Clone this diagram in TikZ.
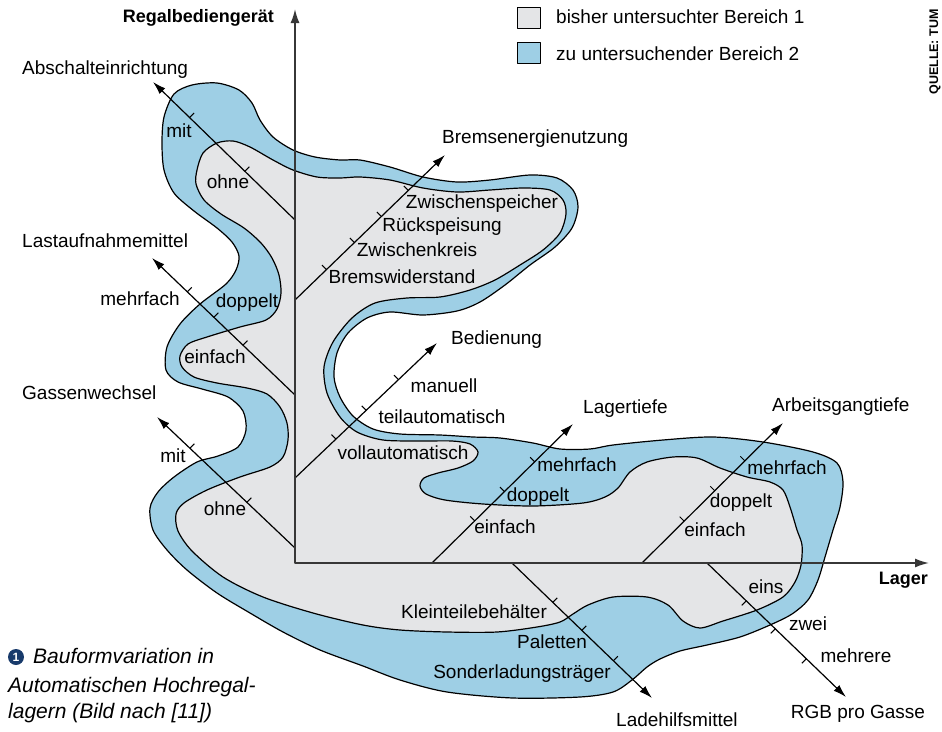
\documentclass[tikz,border=0pt]{standalone}
\usepackage{fontspec}
\setmainfont{Liberation Sans}
\usetikzlibrary{arrows.meta,calc}
\definecolor{grayfill}{RGB}{228,229,231}
\definecolor{bluefill}{RGB}{158,207,229}
\definecolor{axisgray}{RGB}{55,55,55}
\definecolor{navy}{RGB}{24,58,107}
\begin{document}
\begin{tikzpicture}[x=1pt,y=-1pt,line join=round,
  lbl/.style={font=\fontsize{19}{21}\selectfont, inner sep=0pt, text height=12pt, text depth=1pt},
  lblw/.style={lbl, anchor=west},
  bld/.style={font=\fontsize{18}{20}\selectfont\bfseries, inner sep=0pt, text height=12pt, text depth=1pt},
  capt/.style={font=\fontsize{21}{23}\selectfont\itshape, inner sep=0pt, text height=13pt, text depth=1pt, anchor=west},
  blob/.style={line width=1.2pt, draw=black},
  axisline/.style={line width=1.2pt, -{Latex[length=13pt,width=8pt]}},
  mainaxis/.style={line width=1.7pt, draw=axisgray, {Latex[length=14pt,width=9pt]}-{Latex[length=14pt,width=9pt]}},
  tickmark/.style={line width=1pt},
  legbox/.style={draw, line width=1pt, minimum width=23pt, minimum height=21pt, inner sep=0pt}]
\useasboundingbox (0,0) rectangle (942,731);
\fill[white] (0,0) rectangle (942,731);

% region 2 (blue)
\draw[blob, fill=bluefill] plot[smooth cycle, tension=0.5] coordinates {
(162,143) (164,117) (174,94) (192,85) (217,83) (239,90) (252,103) (260,120) (273,137) (293,150) (315,157) (340,160) (360,160) (390,167) (423,177) (457,182) (490,180) (530,175) (557,178) (573,190) (578,207) (572,228) (555,247) (530,265) (505,285) (480,302) (457,311) (423,315) (390,312) (367,318) (348,333) (337,353) (334,377) (340,397) (353,416) (373,429) (400,434) (440,435) (473,437) (500,438) (533,443) (560,449) (590,449) (613,445) (663,440) (713,437) (763,442) (813,452) (837,463) (843,482) (840,507) (833,530) (825,557) (818,580) (808,600) (792,614) (770,625) (740,637) (707,645) (680,651) (660,659) (647,667) (632,680) (613,692) (580,697) (513,698) (447,692) (400,680) (363,666) (320,650) (283,632) (250,613) (217,593) (187,570) (167,550) (153,530) (150,508) (158,492) (174,477) (197,462) (218,456) (238,447) (246,430) (243,411) (228,397) (202,389) (178,382) (166,370) (167,347) (180,324) (200,304) (226,284) (236,270) (239,256) (232,242) (217,228) (194,211) (174,193) (164,170)};

% region 1 (gray)
\draw[blob, fill=grayfill] plot[smooth cycle, tension=0.5] coordinates {
(197,170) (203,153) (217,143) (233,141) (250,147) (273,160) (293,170) (317,177) (340,178) (360,177) (390,180) (423,188) (457,192) (490,190) (523,188) (550,190) (563,200) (566,214) (560,233) (543,250) (520,265) (495,280) (470,290) (440,297) (407,298) (375,303) (352,318) (333,342) (324,367) (327,393) (340,417) (357,432) (383,440) (420,441) (452,441) (470,444) (478,452) (473,461) (458,468) (438,473) (424,478) (420,486) (426,494) (445,500) (483,504) (533,506) (583,503) (605,497) (618,488) (630,472) (647,462) (673,457) (697,458) (720,468) (747,477) (770,482) (783,490) (790,507) (797,530) (802,545) (801,565) (795,582) (783,597) (757,610) (723,621) (700,628) (683,621) (668,605) (647,597) (613,597) (588,605) (573,614) (560,622) (537,627) (497,632) (447,632) (400,630) (363,625) (313,613) (263,597) (223,577) (192,551) (178,531) (176,514) (184,503) (207,490) (240,477) (270,467) (283,457) (288,440) (287,423) (280,407) (267,394) (247,388) (217,383) (194,377) (182,367) (180,356) (188,344) (207,337) (240,327) (266,320) (277,309) (281,293) (279,275) (272,258) (261,243) (244,228) (221,214) (204,200) (196,184)};

% axis coordinates
\coordinate (O) at (295,563);
\coordinate (Ytip) at (295,9);
\coordinate (Xtip) at (929,563);
\coordinate (a1s) at (295,220); \coordinate (a1e) at (153,82);
\coordinate (a2s) at (295,395); \coordinate (a2e) at (152,258);
\coordinate (a3s) at (295,548); \coordinate (a3e) at (157,417);
\coordinate (b1s) at (295,300); \coordinate (b1e) at (445,155);
\coordinate (b2s) at (295,478); \coordinate (b2e) at (437,343);
\coordinate (l1s) at (432,563); \coordinate (l1e) at (573,424);
\coordinate (l2s) at (642,563); \coordinate (l2e) at (783,423);
\coordinate (d1s) at (512,563); \coordinate (d1e) at (652,698);
\coordinate (d2s) at (707,563); \coordinate (d2e) at (846,697);

\draw[axisline] (a1s) -- (a1e);
\draw[axisline] (a2s) -- (a2e);
\draw[axisline] (a3s) -- (a3e);
\draw[axisline] (b1s) -- (b1e);
\draw[axisline] (b2s) -- (b2e);
\draw[axisline] (l1s) -- (l1e);
\draw[axisline] (l2s) -- (l2e);
\draw[axisline] (d1s) -- (d1e);
\draw[axisline] (d2s) -- (d2e);
\draw[mainaxis] (Ytip) -- (O) -- (Xtip);

% ticks
\foreach \x/\y in {193/114, 248/168} \draw[tickmark] ($(a1s)!(\x,\y)!(a1e)$) -- ++(4.5,-4.5);
\foreach \x/\y in {190/289, 215/316, 245/343} \draw[tickmark] ($(a2s)!(\x,\y)!(a2e)$) -- ++(4.5,-4.5);
\foreach \x/\y in {193/445, 250/499} \draw[tickmark] ($(a3s)!(\x,\y)!(a3e)$) -- ++(4.5,-4.5);
\foreach \x/\y in {405/187, 378/213, 352/240, 323/266} \draw[tickmark] ($(b1s)!(\x,\y)!(b1e)$) -- ++(-4.5,-4.5);
\foreach \x/\y in {397/378, 363/407, 333/436} \draw[tickmark] ($(b2s)!(\x,\y)!(b2e)$) -- ++(-4.5,-4.5);
\foreach \x/\y in {530/457, 501/488, 472/518} \draw[tickmark] ($(l1s)!(\x,\y)!(l1e)$) -- ++(-4.5,-4.5);
\foreach \x/\y in {742/458, 712/488, 680/517} \draw[tickmark] ($(l2s)!(\x,\y)!(l2e)$) -- ++(-4.5,-4.5);
\foreach \x/\y in {555/600, 584/628, 615/659} \draw[tickmark] ($(d1s)!(\x,\y)!(d1e)$) -- ++(4.5,-4.5);
\foreach \x/\y in {748/599, 777/627, 808/657} \draw[tickmark] ($(d2s)!(\x,\y)!(d2e)$) -- ++(-4.5,4.5);

% axis names
\node[bld, anchor=east] (nY) at (274,17) {Regalbediengerät};
\node[bld, anchor=east] (nX) at (928,579) {Lager};
\node[lblw] (na1) at (22,69) {Abschalteinrichtung};
\node[lblw] (na2) at (22,242) {Lastaufnahmemittel};
\node[lblw] (na3) at (22,394) {Gassenwechsel};
\node[lblw] (nb1) at (442,138) {Bremsenergienutzung};
\node[lblw] (nb2) at (451,339) {Bedienung};
\node[lblw] (nl1) at (583,408) {Lagertiefe};
\node[lblw] (nl2) at (772,406) {Arbeitsgangtiefe};
\node[lblw] (nd1) at (616,721) {Ladehilfsmittel};
\node[lbl] (nd2) at (858,713) {RGB pro Gasse};

% values
\node[lbl] (a1v1) at (179,132) {mit};
\node[lbl] (a1v2) at (228,183) {ohne};
\node[lbl] (a2v1) at (140,300) {mehrfach};
\node[lbl] (a2v2) at (247,302) {doppelt};
\node[lbl] (a2v3) at (215,358) {einfach};
\node[lbl] (a3v1) at (173,457) {mit};
\node[lbl] (a3v2) at (225,510) {ohne};
\node[lbl] (b1v1) at (482,203) {Zwischenspeicher};
\node[lbl] (b1v2) at (442,226) {Rückspeisung};
\node[lbl] (b1v3) at (417,251) {Zwischenkreis};
\node[lbl] (b1v4) at (402,278) {Bremswiderstand};
\node[lbl] (b2v1) at (444,387) {manuell};
\node[lbl] (b2v2) at (442,418) {teilautomatisch};
\node[lbl] (b2v3) at (403,454) {vollautomatisch};
\node[lbl] (l1v1) at (577,466) {mehrfach};
\node[lbl] (l1v2) at (538,496) {doppelt};
\node[lbl] (l1v3) at (505,528) {einfach};
\node[lbl] (l2v1) at (787,469) {mehrfach};
\node[lbl] (l2v2) at (741,502) {doppelt};
\node[lbl] (l2v3) at (715,531) {einfach};
\node[lbl] (d1v1) at (474,613) {Kleinteilebehälter};
\node[lbl] (d1v2) at (552,643) {Paletten};
\node[lbl] (d1v3) at (522,673) {Sonderladungsträger};
\node[lbl] (d2v1) at (766,588) {eins};
\node[lbl] (d2v2) at (808,625) {zwei};
\node[lbl] (d2v3) at (856,657) {mehrere};

% legend
\node[legbox, fill=grayfill] (lg1) at (528.5,17.5) {};
\node[legbox, fill=bluefill] (lg2) at (528.5,52.5) {};
\node[lblw, font=\fontsize{19}{21}\selectfont] (lt1) at (556,18) {bisher untersuchter Bereich 1};
\node[lblw, font=\fontsize{19}{21}\selectfont] (lt2) at (556,55) {zu untersuchender Bereich 2};

% source
\node[rotate=90, font=\fontsize{12.5}{14}\selectfont\bfseries, inner sep=0pt] (src) at (935,52) {QUELLE: TUM};

% caption
\node[circle, fill=navy, text=white, inner sep=0pt, minimum size=16pt, font=\fontsize{12}{13}\selectfont\bfseries] (capnum) at (16,657) {1};
\node[capt] (cap1) at (33,657) {Bauformvariation in};
\node[capt] (cap2) at (8,686) {Automatischen Hochregal-};
\node[capt] (cap3) at (8,712) {lagern (Bild nach [11])};
\end{tikzpicture}
\end{document}
